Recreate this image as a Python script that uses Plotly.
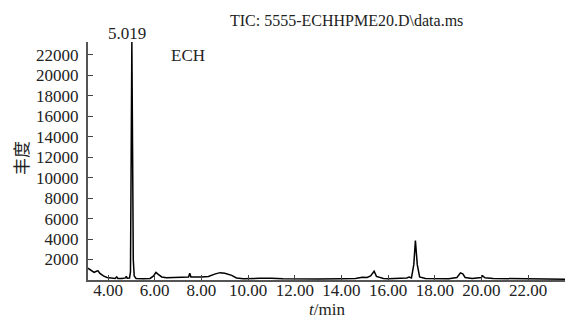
import plotly.graph_objects as go

# Retention time (min) and abundance
times = [3.14, 3.25, 3.40, 3.50, 3.57, 3.65, 3.80, 3.95, 4.10, 4.30, 4.37, 4.42, 4.60,
         4.75, 4.78, 4.82, 4.92, 4.96, 4.99, 5.019, 5.05, 5.08, 5.12, 5.20, 5.50, 5.80,
         5.95, 6.05, 6.15, 6.30, 6.50, 7.00, 7.45, 7.50, 7.55, 8.00, 8.30, 8.60, 8.80,
         9.00, 9.30, 9.50, 9.80, 10.50, 11.00, 11.50, 12.00, 13.00, 14.00, 14.60, 14.90,
         15.10, 15.25, 15.40, 15.50, 15.80, 16.00, 16.50, 16.80, 16.90, 17.00, 17.10,
         17.17, 17.25, 17.35, 17.60, 18.00, 18.60, 18.95, 19.10, 19.20, 19.30, 19.60,
         20.00, 20.05, 20.15, 20.50, 21.00, 22.00, 22.50, 23.00, 23.60]
abundance = [1150, 1000, 750, 850, 900, 650, 400, 250, 180, 150, 300, 150, 140,
             200, 350, 180, 200, 800, 12000, 23300, 13000, 2000, 400, 150, 120, 150,
             400, 750, 550, 300, 220, 230, 300, 650, 300, 300, 350, 600, 720,
             650, 450, 200, 120, 160, 180, 120, 100, 90, 110, 150, 280,
             250, 400, 850, 350, 150, 130, 140, 200, 280, 200, 1500,
             3850, 1500, 300, 150, 130, 130, 250, 700, 600, 250, 150,
             250, 400, 220, 150, 130, 130, 100, 90, 80]

x_ticks = [4, 6, 8, 10, 12, 14, 16, 18, 20, 22]
x_tick_labels = ["4.00", "6.00", "8.00", "10.00", "12.00", "14.00", "16.00", "18.00", "20.00", "22.00"]
y_ticks = [2000, 4000, 6000, 8000, 10000, 12000, 14000, 16000, 18000, 20000, 22000]
y_tick_labels = [str(v) for v in y_ticks]

W, H = 565, 320
ML, MR, MT, MB = 88, 0, 42, 40
FONT = "Liberation Serif"
TXT = "#222"


def px(x):
    return (x - ML) / (W - ML - MR)


def py(y):
    return (H - MB - y) / (H - MT - MB)


fig = go.Figure()
fig.add_trace(go.Scatter(x=times, y=abundance, mode="lines",
                         line=dict(color="black", width=1.5), hoverinfo="skip"))

fig.update_layout(
    template="none",
    width=W, height=H,
    margin=dict(l=ML, r=MR, t=MT, b=MB, pad=0),
    paper_bgcolor="white", plot_bgcolor="white",
    showlegend=False,
    font_family=FONT, font_size=17, font_color=TXT,
)
fig.update_xaxes(range=[3.14, 23.58], tickmode="array", tickvals=x_ticks, ticktext=x_tick_labels,
                 ticks="inside", ticklen=5, tickwidth=1, tickcolor="#444",
                 showline=True, linecolor="#555", linewidth=2, showgrid=False,
                 zeroline=False, automargin=False,
                 tickfont_family=FONT, tickfont_size=17, tickfont_color=TXT,
                 ticklabelstandoff=-6)
fig.update_yaxes(range=[0, 23270], tickmode="array", tickvals=y_ticks, ticktext=y_tick_labels,
                 ticks="inside", ticklen=5, tickwidth=1, tickcolor="#444",
                 showline=True, linecolor="#555", linewidth=2, showgrid=False,
                 zeroline=False, automargin=False,
                 tickfont_family=FONT, tickfont_size=17, tickfont_color=TXT,
                 ticklabelstandoff=4)

annots = [
    ("TIC: 5555-ECHHPME20.D\\data.ms", 346, 20, 16, FONT, 0),
    ("5.019", 127, 34, 17, FONT, 0),
    ("ECH", 188, 55, 17, FONT, 0),
    ("丰度", 20, 158, 17, "Noto Sans CJK SC", -90),
    ("<i>t</i>/min", 327, 309, 17, FONT, 0),
]
for text, ax, ay, size, fam, ang in annots:
    fig.add_annotation(text=text, xref="paper", yref="paper", x=px(ax), y=py(ay),
                       showarrow=False, xanchor="center", yanchor="middle", textangle=ang,
                       font=dict(family=fam, size=size, color=TXT))

fig.write_html("out.html", config={"displayModeBar": False},
               post_script="document.body.style.margin='0';document.body.style.padding='0';")
